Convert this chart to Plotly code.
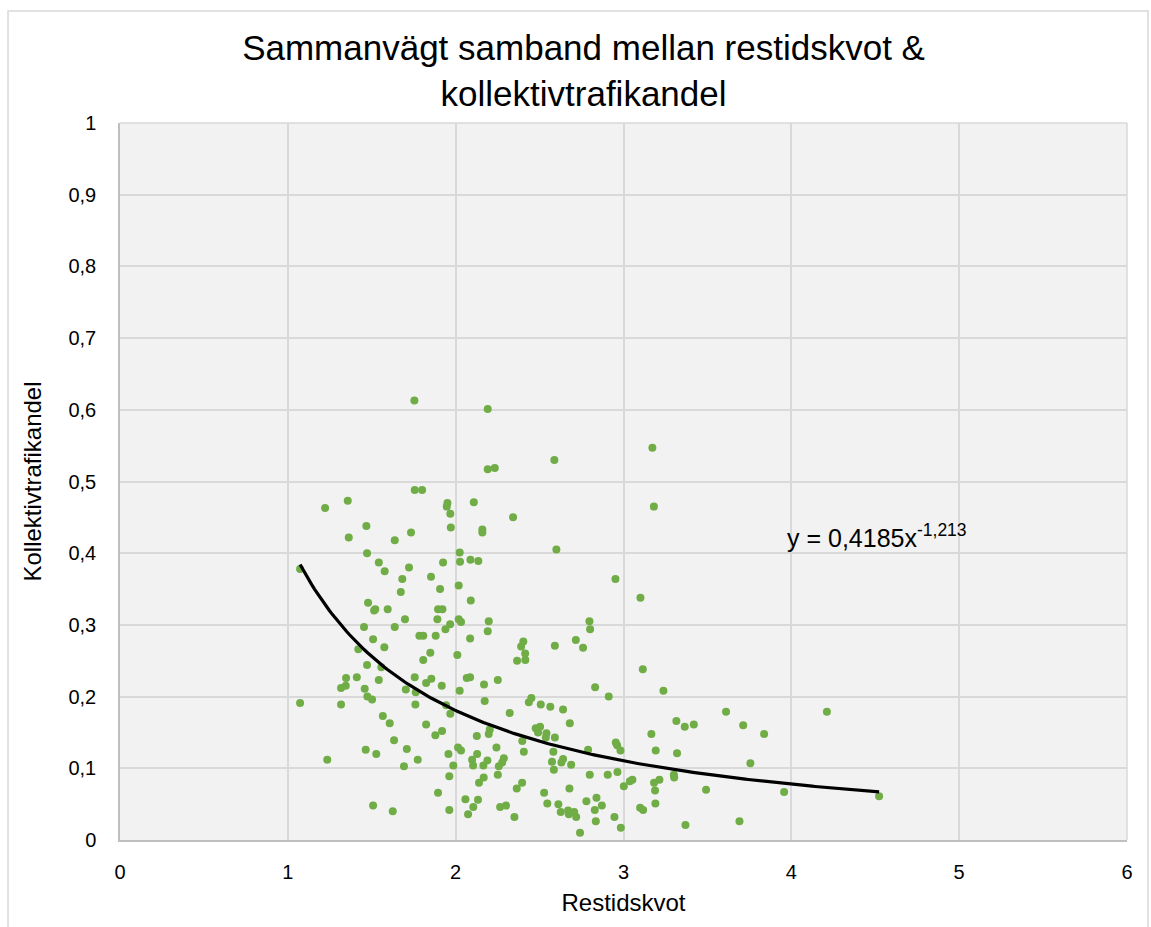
import numpy as np
import plotly.graph_objects as go

# Restidskvot (x) and Kollektivtrafikandel (y)
restidskvot = [
    1.754, 1.756, 1.800, 1.357, 1.222, 1.951, 1.947, 1.968, 2.108, 1.468,
    1.971, 1.734, 1.363, 1.637, 1.472, 2.024, 2.026, 2.088, 2.135, 1.542,
    1.722, 1.925, 1.577, 1.073, 1.853, 1.682, 1.907, 2.018, 1.673, 2.090,
    1.478, 1.514, 1.521, 1.595, 1.895, 1.921, 1.698, 1.891, 2.018, 2.032,
    1.967, 1.939, 1.454, 1.637, 1.784, 1.807, 1.881, 1.508, 2.086, 1.575,
    1.420, 1.849, 2.010, 1.807, 1.472, 1.557, 1.756, 1.855, 1.824, 2.066,
    2.086, 1.347, 1.411, 1.542, 1.317, 1.345, 1.458, 1.703, 1.917, 2.024,
    1.762, 1.073, 1.317, 1.474, 1.502, 1.760, 1.943, 1.968, 1.566, 1.607,
    1.824, 1.879, 1.919, 2.126, 1.633, 1.464, 1.527, 1.709, 2.014, 2.032,
    1.957, 2.128, 1.235, 1.774, 1.692, 1.986, 2.098, 2.104, 1.962, 2.139,
    1.895, 2.058, 2.133, 1.508, 1.625, 1.962, 2.105, 2.074,
    2.191, 3.172, 2.588, 2.191, 2.233, 3.181, 2.342, 2.159, 2.159, 2.600,
    2.952, 3.101, 2.197, 2.191, 2.797, 2.801, 2.403, 2.390, 2.414, 2.366,
    2.415, 2.591, 2.716, 2.759, 3.115, 2.251, 2.169, 2.831, 3.238, 2.173,
    2.912, 2.451, 2.436, 2.507, 2.564, 2.640, 2.322, 2.680, 2.203, 2.197,
    2.503, 2.477, 2.491, 2.541, 2.537, 2.591, 2.397, 2.954, 2.962, 2.982,
    3.166, 3.315, 2.243, 2.406, 2.789, 2.582, 3.192, 3.319, 2.189, 2.165,
    2.287, 2.277, 2.257, 2.640, 2.630, 2.574, 2.688, 2.585, 2.799, 2.906,
    2.964, 2.251, 2.167, 2.396, 2.364, 3.053, 3.038, 3.214, 3.182, 3.300,
    3.302, 3.002, 2.678, 3.188, 2.527, 2.546, 2.612, 2.779, 2.839, 2.871,
    2.829, 3.190, 3.099, 3.117, 2.300, 2.265, 2.626, 2.670, 2.706, 2.674,
    2.718, 2.350, 2.946, 2.835, 2.984, 2.741,
    3.365, 3.419, 3.611, 3.713, 3.838, 4.212, 3.756, 3.492, 3.957, 4.523,
    3.369, 3.691,
]
kollektivtrafikandel = [
    0.613, 0.488, 0.488, 0.473, 0.463, 0.470, 0.465, 0.455, 0.471, 0.438,
    0.436, 0.429, 0.422, 0.418, 0.400, 0.401, 0.388, 0.391, 0.389, 0.387,
    0.380, 0.387, 0.375, 0.378, 0.367, 0.364, 0.350, 0.355, 0.346, 0.334,
    0.331, 0.320, 0.322, 0.322, 0.322, 0.322, 0.308, 0.308, 0.308, 0.304,
    0.301, 0.294, 0.297, 0.297, 0.285, 0.285, 0.285, 0.280, 0.281, 0.269,
    0.266, 0.261, 0.258, 0.251, 0.244, 0.241, 0.227, 0.225, 0.219, 0.226,
    0.227, 0.226, 0.227, 0.223, 0.212, 0.215, 0.211, 0.210, 0.215, 0.208,
    0.206, 0.191, 0.189, 0.200, 0.196, 0.189, 0.188, 0.176, 0.173, 0.163,
    0.161, 0.146, 0.152, 0.145, 0.139, 0.126, 0.120, 0.127, 0.129, 0.125,
    0.120, 0.120, 0.112, 0.112, 0.103, 0.104, 0.112, 0.104, 0.089, 0.080,
    0.066, 0.057, 0.056, 0.048, 0.040, 0.042, 0.046, 0.036,
    0.601, 0.547, 0.530, 0.517, 0.519, 0.465, 0.450, 0.433, 0.429, 0.405,
    0.364, 0.338, 0.305, 0.291, 0.305, 0.294, 0.277, 0.270, 0.260, 0.250,
    0.251, 0.271, 0.279, 0.268, 0.238, 0.223, 0.217, 0.213, 0.208, 0.194,
    0.200, 0.198, 0.192, 0.189, 0.186, 0.182, 0.177, 0.163, 0.154, 0.148,
    0.158, 0.156, 0.150, 0.149, 0.143, 0.143, 0.138, 0.136, 0.132, 0.125,
    0.148, 0.166, 0.129, 0.123, 0.126, 0.123, 0.125, 0.121, 0.111, 0.104,
    0.114, 0.108, 0.103, 0.113, 0.108, 0.109, 0.105, 0.098, 0.091, 0.091,
    0.095, 0.091, 0.087, 0.080, 0.072, 0.084, 0.082, 0.084, 0.080, 0.091,
    0.087, 0.075, 0.072, 0.069, 0.066, 0.051, 0.050, 0.054, 0.059, 0.048,
    0.042, 0.051, 0.045, 0.042, 0.048, 0.046, 0.039, 0.041, 0.039, 0.036,
    0.032, 0.032, 0.032, 0.026, 0.017, 0.010,
    0.158, 0.161, 0.179, 0.160, 0.148, 0.179, 0.107, 0.070, 0.067, 0.061,
    0.021, 0.026,
]

# Power trendline coefficients shown in the chart
trend_a = 0.4185
trend_b = -1.213

x_ticks = [0, 1, 2, 3, 4, 5, 6]
y_ticks = [0, 0.1, 0.2, 0.3, 0.4, 0.5, 0.6, 0.7, 0.8, 0.9, 1]

xs = np.linspace(min(restidskvot), max(restidskvot), 200)
ys = trend_a * xs ** trend_b

FONT = "Liberation Sans, Arial, sans-serif"

fig = go.Figure()
fig.add_trace(go.Scatter(
    x=restidskvot, y=kollektivtrafikandel, mode="markers",
    marker=dict(color="#70ad47", size=8, line=dict(width=0)),
    showlegend=False, hoverinfo="x+y",
))
fig.add_trace(go.Scatter(
    x=xs, y=ys, mode="lines", line=dict(color="black", width=3.2),
    showlegend=False, hoverinfo="skip",
))

fig.update_layout(
    width=1151, height=927,
    margin=dict(l=120, r=24, t=123, b=87),
    paper_bgcolor="white", plot_bgcolor="#f2f2f2",
    separators=",.",
    font=dict(family=FONT, color="#000000", size=20),
    title=dict(
        text="Sammanvägt samband mellan restidskvot &<br>kollektivtrafikandel",
        x=0.507, xanchor="center", y=0.935, yanchor="middle",
        font=dict(family=FONT, size=35, color="#000000"),
    ),
    xaxis=dict(
        range=[0, 6], tickvals=x_ticks, showgrid=True, gridcolor="#d9d9d9",
        gridwidth=1.5, showline=True, linecolor="#bfbfbf", linewidth=1.5,
        zeroline=False, ticks="", ticklabelstandoff=13,
        tickfont=dict(family=FONT, size=20, color="#000000"),
        title=dict(text="Restidskvot", font=dict(family=FONT, size=24, color="#000000"),
                   standoff=12),
    ),
    yaxis=dict(
        range=[0, 1], tickvals=y_ticks, showgrid=True, gridcolor="#d9d9d9",
        gridwidth=1.5, showline=True, linecolor="#bfbfbf", linewidth=1.5,
        zeroline=False, ticks="", ticklabelstandoff=18,
        tickfont=dict(family=FONT, size=20, color="#000000"),
        title=dict(text="Kollektivtrafikandel", font=dict(family=FONT, size=24, color="#000000"),
                   standoff=20),
    ),
    annotations=[dict(
        x=3.96, y=0.424, xref="x", yref="y", xanchor="left", yanchor="middle",
        text="y = 0,4185x<sup>-1,213</sup>", showarrow=False,
        font=dict(family=FONT, size=25, color="#000000"),
    )],
    shapes=[dict(
        type="rect", xref="paper", yref="paper",
        x0=-0.1112, x1=1.0209, y0=-0.13, y1=1.1562,
        line=dict(color="#d9d9d9", width=1.5), fillcolor="rgba(0,0,0,0)", layer="below",
    ), dict(
        type="line", xref="paper", yref="paper", x0=1, x1=1, y0=0, y1=1,
        line=dict(color="#d9d9d9", width=1.5), layer="below",
    ), dict(
        type="line", xref="paper", yref="paper", x0=0, x1=1, y0=1, y1=1,
        line=dict(color="#d9d9d9", width=1.5), layer="below",
    )],
)

fig.write_html("out.html")
